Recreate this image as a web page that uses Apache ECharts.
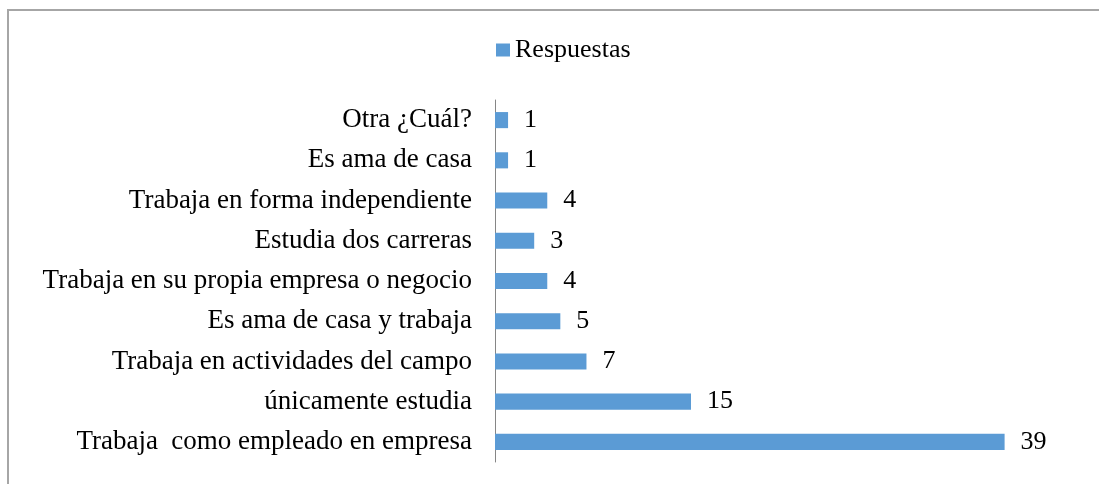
<!DOCTYPE html>
<html>
<head>
<meta charset="utf-8">
<title>Respuestas</title>
<script src="https://cdn.jsdelivr.net/npm/echarts@6/dist/echarts.min.js"></script>
<style>
  html, body { margin: 0; padding: 0; background: #fff; }
  #chart { width: 1099px; height: 484px; }
</style>
</head>
<body>
<div id="chart"></div>
<script>
// categories, top to bottom as in the picture
const categories = [
  'Otra ¿Cuál?',
  'Es ama de casa',
  'Trabaja en forma independiente',
  'Estudia dos carreras',
  'Trabaja en su propia empresa o negocio',
  'Es ama de casa y trabaja',
  'Trabaja en actividades del campo',
  'únicamente estudia',
  'Trabaja  como empleado en empresa'
]
const respuestas = [1, 1, 4, 3, 4, 5, 7, 15, 39]
const seriesName = 'Respuestas'

const serif = '"Liberation Serif", "Times New Roman", serif'

const chart = echarts.init(document.getElementById('chart'))

chart.setOption({
  animation: false,
  graphic: [
    {
      // chart frame (only top and left edges are visible in the picture)
      type: 'rect',
      shape: { x: 8, y: 10, width: 1200, height: 600 },
      style: { fill: 'none', stroke: '#a6a6a6', lineWidth: 2 },
      silent: true
    }
  ],
  legend: {
    data: [seriesName],
    left: 491,
    top: 32,
    itemWidth: 14,
    itemHeight: 13,
    icon: 'rect',
    textStyle: { fontFamily: serif, fontSize: 26, color: '#000' }
  },
  grid: {
    left: 495,
    right: 16,
    top: 100,
    bottom: 22
  },
  xAxis: {
    type: 'value',
    min: 0,
    max: 45,
    show: false
  },
  yAxis: {
    type: 'category',
    inverse: true,
    data: categories,
    axisTick: { show: false },
    axisLine: { lineStyle: { color: '#868686', width: 1 } },
    axisLabel: {
      fontFamily: serif,
      fontSize: 27,
      color: '#000',
      margin: 23
    }
  },
  series: [
    {
      name: seriesName,
      type: 'bar',
      data: respuestas,
      barWidth: '40%',
      itemStyle: { color: '#5B9BD5' },
      label: {
        show: true,
        position: 'right',
        distance: 16,
        fontFamily: serif,
        fontSize: 26,
        color: '#000'
      }
    }
  ]
})
</script>
</body>
</html>
